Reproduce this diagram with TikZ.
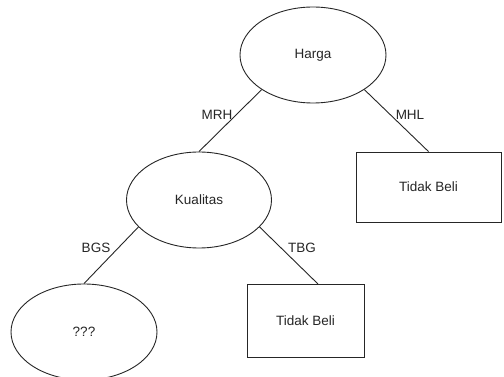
\documentclass[tikz,border=0pt]{standalone}
\usepackage{fontspec}
\setmainfont{Liberation Sans}
\usetikzlibrary{shapes.geometric}
\begin{document}
\begin{tikzpicture}[x=1pt,y=-1pt,
  every node/.style={font=\fontsize{13.5}{16}\selectfont, text=black!85},
  oval/.style={ellipse, draw=black!85, line width=0.9pt, minimum width=146pt, minimum height=96pt, inner sep=0pt},
  leaf/.style={rectangle, draw=black!85, line width=0.9pt, inner sep=0pt},
  edge/.style={draw=black!85, line width=0.9pt},
  lbl/.style={inner sep=0pt, fill=none}]
\useasboundingbox (0,0) rectangle (504,377);
\fill[white] (0,0) rectangle (504,377);
\node[oval] (harga) at (313,55) {Harga};
\node[oval, minimum width=145pt] (kual) at (199,200) {Kualitas};
\node[oval] (q) at (84,332) {???};
\node[leaf, minimum width=145pt, minimum height=70pt] (tb1) at (428.5,187) {Tidak Beli};
\node[leaf, minimum width=117pt, minimum height=73pt] (tb2) at (305.5,320.5) {Tidak Beli};
\coordinate (tb2top) at (318,284);
\draw[edge] (harga.214) -- (kual.north);
\draw[edge] (harga.326) -- (tb1.north);
\draw[edge] (kual.204) -- (q.north);
\draw[edge] (kual.336) -- (tb2top);
\node[lbl] (mrh) at (217,115) {MRH};
\node[lbl] (mhl) at (410,115) {MHL};
\node[lbl] (bgs) at (96,248) {BGS};
\node[lbl] (tbg) at (302,248) {TBG};
\end{tikzpicture}
\end{document}
